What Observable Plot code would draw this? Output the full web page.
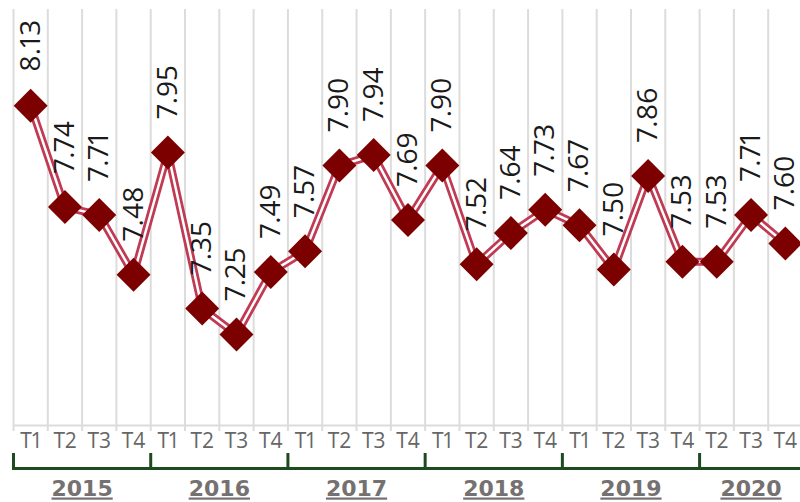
<!DOCTYPE html>
<html>
<head>
<meta charset="utf-8">
<script src="https://cdn.jsdelivr.net/npm/d3@7"></script>
<script src="https://cdn.jsdelivr.net/npm/@observablehq/plot@0.6"></script>
<style>
  html, body { margin: 0; padding: 0; background: #fff; }
  #chart { width: 800px; height: 502px; overflow: hidden; }
  #chart svg text { font-variant-numeric: proportional-nums; }
</style>
</head>
<body>
<div id="chart"></div>
<script>
const quarters = ["T1","T2","T3","T4","T1","T2","T3","T4","T1","T2","T3","T4","T1","T2","T3","T4","T1","T2","T3","T4","T2","T3","T4"];
const years = [2015,2015,2015,2015,2016,2016,2016,2016,2017,2017,2017,2017,2018,2018,2018,2018,2019,2019,2019,2019,2020,2020,2020];
const values = [8.13,7.74,7.71,7.48,7.95,7.35,7.25,7.49,7.57,7.90,7.94,7.69,7.90,7.52,7.64,7.73,7.67,7.50,7.86,7.53,7.53,7.71,7.60];

const data = values.map((v, k) => ({i: k + 0.5, q: quarters[k], year: years[k], v}));
const groups = d3.groups(data, d => d.year).map(([year, arr]) => ({
  year: String(year),
  start: arr[0].i - 0.5,
  end: arr[arr.length - 1].i + 0.5
}));

const green = "#1e4a1f";

const chart = Plot.plot({
  width: 800,
  height: 502,
  marginTop: 9,
  marginBottom: 77,
  marginLeft: 13,
  marginRight: -2,
  x: {domain: [0, values.length], axis: null},
  y: {domain: [6.9, 8.5], axis: null},
  style: {background: "white", fontFamily: "'Open Sans', sans-serif"},
  marks: [
    Plot.ruleX(d3.range(0, values.length + 1), {stroke: "#dcdcdc", strokeWidth: 2, insetBottom: -6}),
    Plot.ruleY([6.9], {stroke: "#dcdcdc", strokeWidth: 2}),
    Plot.line(data, {x: "i", y: "v", stroke: "#c03a53", strokeWidth: 8}),
    Plot.line(data, {x: "i", y: "v", stroke: "white", strokeWidth: 2.5}),
    Plot.dot(data, {x: "i", y: "v", symbol: "diamond2", r: 15.3, fill: "#7d0000", stroke: "none"}),
    Plot.text(data, {x: "i", y: "v", text: d => d.v.toFixed(2), rotate: -90, textAnchor: "start", dy: -34,
      fontSize: 28, fontWeight: "normal", fill: "#1a1a1a"}),
    Plot.text(data, {x: "i", text: "q", frameAnchor: "bottom", dy: 22, fontSize: 21, fontWeight: "normal", fill: "#666"}),
    Plot.ruleX(groups.map(g => g.start), {stroke: green, strokeWidth: 3, insetTop: 444, insetBottom: -45}),
    Plot.ruleY([6.9], {dy: 43, stroke: green, strokeWidth: 3}),
    Plot.text(groups, {x: d => (d.start + d.end) / 2, text: "year", frameAnchor: "bottom", dy: 70,
      fontSize: 22, fontWeight: "bold", fill: "#767171", fontFamily: "'DejaVu Sans', sans-serif"})
  ]
});
document.getElementById("chart").appendChild(chart);
const yearSet = new Set(groups.map(g => g.year));
d3.select(chart).selectAll("text")
  .filter(function() { return yearSet.has(this.textContent); })
  .style("text-decoration", "underline");
</script>
</body>
</html>
